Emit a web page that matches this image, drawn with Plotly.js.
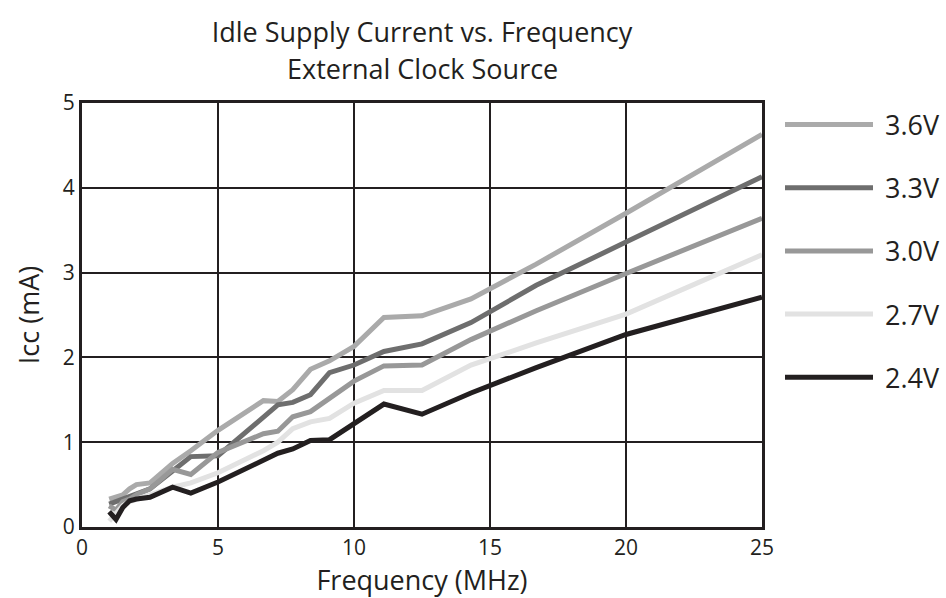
<!DOCTYPE html>
<html>
<head>
<meta charset="utf-8">
<script src="https://cdn.plot.ly/plotly-3.0.1.min.js"></script>
<style>html,body{margin:0;padding:0;background:#fff;}#chart{width:946px;height:598px;}</style>
</head>
<body>
<div id="chart"></div>
<script>
const freq = [1, 1.25, 1.5, 1.75, 2, 2.5, 3.33, 4, 5, 6.67, 7.2, 7.75, 8.4, 9.1, 10, 11.1, 12.5, 14.3, 16.7, 20, 25];
const v36 = [0.33, 0.36, 0.38, 0.45, 0.50, 0.52, 0.75, 0.90, 1.14, 1.49, 1.48, 1.62, 1.86, 1.96, 2.13, 2.47, 2.49, 2.69, 3.10, 3.70, 4.63];
const v33 = [0.27, 0.30, 0.33, 0.36, 0.40, 0.45, 0.66, 0.83, 0.84, 1.30, 1.44, 1.47, 1.56, 1.82, 1.91, 2.07, 2.16, 2.41, 2.85, 3.36, 4.13];
const v30 = [0.25, 0.20, 0.30, 0.33, 0.38, 0.45, 0.68, 0.62, 0.88, 1.10, 1.13, 1.30, 1.36, 1.52, 1.72, 1.90, 1.91, 2.21, 2.55, 2.99, 3.64];
const v27 = [0.07, 0.15, 0.25, 0.30, 0.33, 0.38, 0.47, 0.52, 0.64, 0.90, 1.00, 1.16, 1.24, 1.28, 1.46, 1.61, 1.61, 1.91, 2.17, 2.51, 3.21];
const v24 = [0.18, 0.09, 0.23, 0.31, 0.33, 0.35, 0.47, 0.40, 0.53, 0.79, 0.87, 0.92, 1.02, 1.03, 1.22, 1.45, 1.33, 1.58, 1.88, 2.27, 2.71];
const seriesNames = ['3.6V', '3.3V', '3.0V', '2.7V', '2.4V'];
const seriesValues = [v36, v33, v30, v27, v24];
const seriesColors = ['#aaaaaa', '#6e6e6e', '#989898', '#e2e2e2', '#231f20'];
const xTicks = [0, 5, 10, 15, 20, 25];
const yTicks = [0, 1, 2, 3, 4, 5];
const titleLine1 = 'Idle Supply Current vs. Frequency';
const titleLine2 = 'External Clock Source';

const FONT = 'Open Sans, Noto Sans, sans-serif';
const INK = '#231f20';

const traces = seriesNames.map((n, i) => ({
  x: freq, y: seriesValues[i], name: n, type: 'scatter', mode: 'lines',
  line: {color: seriesColors[i], width: 5, shape: 'linear'},
  showlegend: false, hoverinfo: 'skip'
}));

// plot area in pixels: left 82, right 762, top 103, bottom 527
const PL = 82, PR = 762, PT = 103, PB = 527;
const px2x = p => (p - PL) / (PR - PL);
const py2y = p => 1 - (p - PT) / (PB - PT);

const shapes = [];
const annotations = [];
const legTop = 124.5, legStep = 63.2;
seriesNames.forEach((n, i) => {
  const yPaper = py2y(legTop + i * legStep);
  shapes.push({type: 'line', xref: 'paper', yref: 'paper',
    x0: px2x(785), x1: px2x(873), y0: yPaper, y1: yPaper,
    line: {color: seriesColors[i], width: 5}});
  annotations.push({xref: 'paper', yref: 'paper', x: px2x(883), y: yPaper,
    xanchor: 'left', yanchor: 'middle', showarrow: false, text: n,
    font: {family: FONT, size: 27, color: INK}});
});
annotations.push({xref: 'paper', yref: 'paper', x: 0.5, y: py2y(69),
  xanchor: 'center', yanchor: 'middle', showarrow: false, text: titleLine2,
  font: {family: FONT, size: 27, color: INK}});

const layout = {
  width: 946, height: 598,
  margin: {l: PL, r: 946 - PR, t: PT, b: 598 - PB},
  paper_bgcolor: '#ffffff', plot_bgcolor: '#ffffff',
  font: {family: FONT, color: INK},
  title: {text: titleLine1,
    x: 0.5, xref: 'paper', xanchor: 'center', y: 1 - 33 / 598, yref: 'container', yanchor: 'middle',
    font: {family: FONT, size: 27, color: INK}},
  xaxis: {range: [0, 25], tickvals: xTicks, ticktext: xTicks.map(String),
    showgrid: true, gridcolor: INK, gridwidth: 2, zeroline: false,
    showline: true, linecolor: INK, linewidth: 3, mirror: true,
    ticks: '', ticklen: 0, tickfont: {family: FONT, size: 21, color: INK},
    title: {text: 'Frequency (MHz)', font: {family: FONT, size: 27, color: INK}, standoff: 2},
    fixedrange: true},
  yaxis: {range: [0, 5], tickvals: yTicks, ticktext: yTicks.map(String),
    showgrid: true, gridcolor: INK, gridwidth: 2, zeroline: false,
    showline: true, linecolor: INK, linewidth: 3, mirror: true,
    ticks: '', ticklen: 0, tickfont: {family: FONT, size: 21, color: INK},
    title: {text: 'Icc (mA)', font: {family: FONT, size: 27, color: INK}, standoff: 16},
    fixedrange: true},
  shapes: shapes,
  annotations: annotations,
  showlegend: false
};

Plotly.newPlot('chart', traces, layout, {displayModeBar: false, staticPlot: true});
</script>
</body>
</html>
